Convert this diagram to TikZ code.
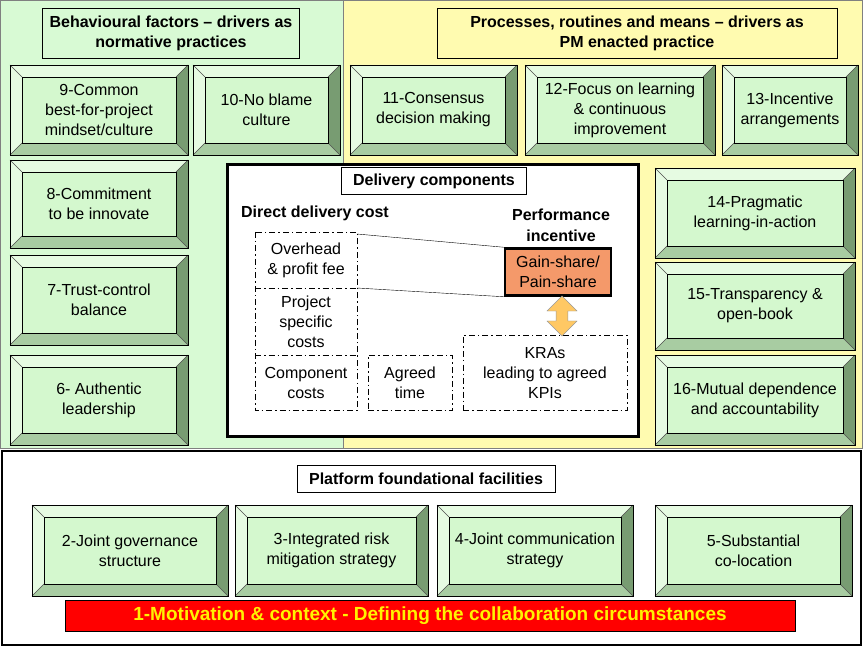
\documentclass[tikz,border=0pt]{standalone}
\usepackage{fontspec}
\setmainfont{Liberation Sans}
\usetikzlibrary{positioning, calc, arrows.meta, shapes.arrows}

\definecolor{leftbg}{HTML}{D8FAD4}
\definecolor{rightbg}{HTML}{FFFBB0}
\definecolor{face}{HTML}{D4F8CE}
\definecolor{lite}{HTML}{E6FBE2}
\definecolor{mid}{HTML}{A8CCA2}
\definecolor{dark}{HTML}{789C72}
\definecolor{gainfill}{HTML}{F4996A}
\definecolor{arrowfill}{HTML}{FFC864}

\tikzset{
  txt/.style={font=\fontsize{16}{20}\selectfont, align=center},
  head/.style={draw=black, font=\bfseries\fontsize{16}{20}\selectfont, align=center},
  dd/.style={draw=black, thick, dash pattern=on 6pt off 3pt on 1.5pt off 3pt},
}

% bevelled button: name, x1, y1, x2, y2, text
\newcommand{\bevelbox}[6]{%
  \fill[lite] (#2,#3) -- (#4,#3) -- (#4-12,#3+12) -- (#2+12,#3+12) -- cycle;
  \fill[lite] (#2,#3) -- (#2+12,#3+12) -- (#2+12,#5-12) -- (#2,#5) -- cycle;
  \fill[dark] (#4,#3) -- (#4,#5) -- (#4-12,#5-12) -- (#4-12,#3+12) -- cycle;
  \fill[mid] (#2,#5) -- (#4,#5) -- (#4-12,#5-12) -- (#2+12,#5-12) -- cycle;
  \draw[black!70] (#2,#3) -- (#2+12,#3+12) (#4,#3) -- (#4-12,#3+12)
     (#2,#5) -- (#2+12,#5-12) (#4,#5) -- (#4-12,#5-12);
  \draw[black, fill=face] (#2+12,#3+12) rectangle (#4-12,#5-12);
  \draw[black, thick] (#2,#3) rectangle (#4,#5);
  \node[txt] (#1) at ({(#2+#4)/2},{(#3+#5)/2}) {#6};
}

\begin{document}
\begin{tikzpicture}[x=1pt, y=-1pt]
    \useasboundingbox (0,0) rectangle (863,647);
    % Hintergrund
    \fill[leftbg] (0,0) rectangle (343,448);
    \fill[rightbg] (343,0) rectangle (863,448);
    \draw[black!50] (0,0) rectangle (343,448) (343,0) rectangle (862,448);
    \draw[black, line width=2pt, fill=white] (2,451) rectangle (861,645);

    % Titel
    \node[head, fill=leftbg, minimum width=257pt, minimum height=50pt] (behav) at (171,33)
        {Behavioural factors -- drivers as\\ normative practices};
    \node[head, fill=rightbg, minimum width=400pt, minimum height=50pt] (proc) at (637,33)
        {Processes, routines and means -- drivers as\\ PM enacted practice};

    % Treiber
    \bevelbox{b9}{10}{65}{188}{155}{9-Common\\ best-for-project\\ mindset/culture}
    \bevelbox{b10}{193}{65}{340}{155}{10-No blame\\ culture}
    \bevelbox{b11}{350}{65}{517}{155}{11-Consensus\\ decision making}
    \bevelbox{b12}{525}{65}{715}{155}{12-Focus on learning\\ \& continuous\\ improvement}
    \bevelbox{b13}{722}{65}{858}{155}{13-Incentive\\ arrangements}
    \bevelbox{b8}{10}{160}{188}{248}{8-Commitment\\ to be innovate}
    \bevelbox{b7}{10}{255}{188}{345}{7-Trust-control\\ balance}
    \bevelbox{b6}{10}{355}{188}{445}{6- Authentic\\ leadership}
    \bevelbox{b14}{655}{168}{855}{258}{14-Pragmatic\\ learning-in-action}
    \bevelbox{b15}{655}{262}{855}{350}{15-Transparency \&\\ open-book}
    \bevelbox{b16}{655}{355}{855}{445}{16-Mutual dependence\\ and accountability}

    % Lieferkomponenten
    \draw[black, line width=3pt, fill=white] (227,165) rectangle (638,436);
    \node[head, fill=white, minimum width=185pt, minimum height=27pt] (deliv) at (434,181) {Delivery components};
    \node[font=\bfseries\fontsize{16}{20}\selectfont] (direct) at (315,213) {Direct delivery cost};
    \node[font=\bfseries\fontsize{16}{21}\selectfont, align=center] (perf) at (561,225) {Performance\\ incentive};
    \draw[dd] (255,232) rectangle (357,410) (255,288) -- (357,288) (255,355) -- (357,355);
    \node[txt] (overhead) at (306,260) {Overhead\\ \& profit fee};
    \node[txt] (project) at (306,322) {Project\\ specific\\ costs};
    \node[txt] (component) at (306,383) {Component\\ costs};
    \node[dd, txt, minimum width=84pt, minimum height=55pt] (agreed) at (410,383) {Agreed\\ time};
    \node[dd, txt, minimum width=164pt, minimum height=75pt] (kra) at (545,373) {KRAs\\ leading to agreed\\ KPIs};
    \node[draw=black, line width=2.5pt, fill=gainfill, txt, minimum width=106pt, minimum height=47pt] (gain) at (558,272)
        {Gain-share/\\ Pain-share};
    \coordinate (ohtop) at (357,234);
    \coordinate (ohbot) at (357,288);
    \draw (ohtop) -- (gain.north west);
    \draw (ohbot) -- (gain.south west);
    \node[double arrow, draw=black!40, fill=arrowfill, rotate=90, minimum height=40pt, minimum width=30pt,
        double arrow head extend=5pt, inner sep=3pt] (dbl) at (562,316) {};

    % Plattform
    \node[head, fill=white, minimum width=258pt, minimum height=27pt] (platform) at (426,479) {Platform foundational facilities};
    \bevelbox{b2}{32}{505}{228}{596}{2-Joint governance\\ structure}
    \bevelbox{b3}{235}{505}{428}{596}{3-Integrated risk\\ mitigation strategy}
    \bevelbox{b4}{437}{505}{633}{596}{4-Joint communication\\ strategy}
    \bevelbox{b5}{655}{505}{852}{596}{5-Substantial\\ co-location}
    \node[draw=black, fill=red, text=yellow, font=\bfseries\fontsize{19}{22}\selectfont,
        minimum width=730pt, minimum height=31pt] (motiv) at (430,616)
        {1-Motivation \& context - Defining the collaboration circumstances};
\end{tikzpicture}
\end{document}
